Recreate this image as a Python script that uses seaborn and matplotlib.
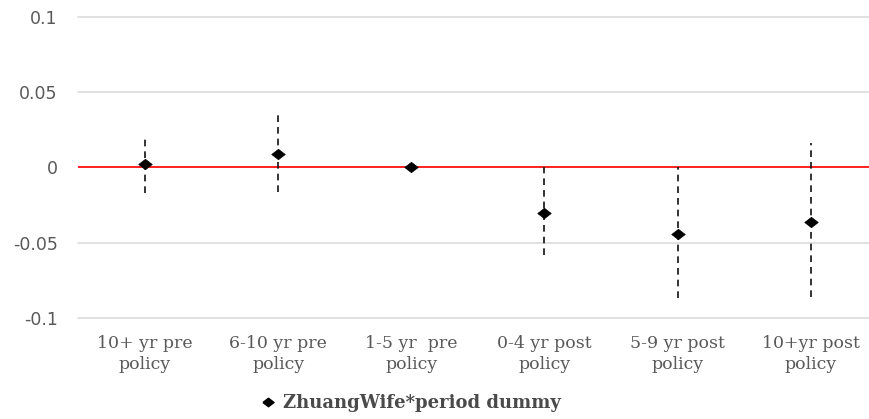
import matplotlib
matplotlib.use("Agg")
import matplotlib.pyplot as plt
from matplotlib.lines import Line2D
import seaborn as sns
import pandas as pd

# Event-study coefficients with confidence bounds
periods = ["10+ yr pre\npolicy", "6-10 yr pre\npolicy", "1-5 yr  pre\npolicy",
           "0-4 yr post\npolicy", "5-9 yr post\npolicy", "10+yr post\npolicy"]
coef = [0.002, 0.009, 0.0, -0.030, -0.044, -0.036]
ci_low = [-0.017, -0.016, 0.0, -0.058, -0.087, -0.086]
ci_high = [0.020, 0.035, 0.0, 0.0, 0.0, 0.016]
series_name = "ZhuangWife*period dummy"
y_ticks = [-0.1, -0.05, 0, 0.05, 0.1]
y_tick_labels = ["-0.1", "-0.05", "0", "0.05", "0.1"]

df = pd.DataFrame({"period": periods, "coef": coef, "lo": ci_low, "hi": ci_high})

sns.set_theme(style="white")
plt.rcParams["font.family"] = ["DejaVu Sans"]

W, H = 869, 419
fig = plt.figure(figsize=(W / 100, H / 100), dpi=100)
ax = fig.add_axes([78.4 / W, (H - 318) / H, 799 / W, 301 / H])

grey_text = "#595959"
diamond = [(-1.3, 0), (0, 1), (1.3, 0), (0, -1), (-1.3, 0)]

for y in y_ticks:
    if y != 0:
        ax.axhline(y, color="#dcdcdc", lw=1.2, zorder=0, clip_on=False)
ax.axhline(0, color="#ff2020", lw=1.4, zorder=1)

# dashed confidence intervals
xs = range(len(df))
ax.vlines(list(xs), df["lo"], df["hi"], colors="#111111", linestyles=(0, (4, 3)),
          lw=1.2, zorder=2)

sns.scatterplot(data=df, x="period", y="coef", marker=diamond, s=95,
                color="black", edgecolor="black", linewidth=0.5, ax=ax,
                zorder=3, legend=False)

ax.set_xlim(-0.5, len(df) - 0.5)
ax.set_ylim(-0.1, 0.1)
ax.set_yticks(y_ticks)
ax.set_yticklabels(y_tick_labels)
ax.set_xlabel("")
ax.set_ylabel("")
for s in ax.spines.values():
    s.set_visible(False)
ax.tick_params(axis="y", length=0, pad=15, labelsize=12.5, labelcolor=grey_text)
ax.tick_params(axis="x", length=0, pad=12, labelcolor=grey_text)
for lab in ax.get_xticklabels():
    lab.set_family("DejaVu Serif")
    lab.set_fontsize(12.5)
    lab.set_linespacing(1.3)

handle = Line2D([], [], linestyle="none", marker=diamond, markersize=8,
                color="black")
fig.legend([handle], [series_name], loc="center", bbox_to_anchor=(410 / W, 1 - 403 / H),
           frameon=False, handletextpad=0.3, handlelength=1.0,
           prop={"family": "DejaVu Serif", "weight": "bold", "size": 13},
           labelcolor="#4a4a4a")

fig.savefig("out.png", dpi=100)
